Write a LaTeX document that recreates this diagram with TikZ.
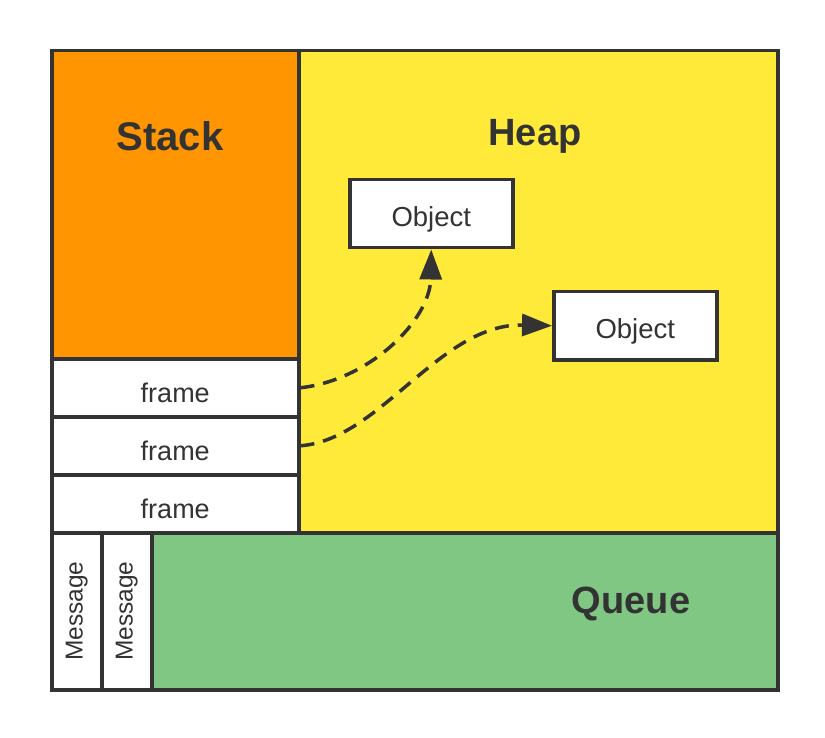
\documentclass[tikz,border=0pt]{standalone}
\usepackage{fontspec}
\usepackage{graphicx}
\setmainfont{Liberation Sans}
\usetikzlibrary{arrows.meta}
\definecolor{ink}{HTML}{333333}
\definecolor{stackc}{HTML}{FF9500}
\definecolor{heapc}{HTML}{FFEA3A}
\definecolor{queuec}{HTML}{81C784}
\begin{document}
\begin{tikzpicture}[x=1pt,y=-1pt,
  box/.style={draw=ink,line width=3.5pt,inner sep=0pt,anchor=north west,text=ink},
  big/.style={text=ink,inner sep=0pt},
  small/.style={font=\fontsize{27}{32}\selectfont,text height=29pt,text depth=0pt},
  objbox/.style={font=\fontsize{27.5}{32}\selectfont,text height=26pt,text depth=0pt},
  msg/.style={font=\fontsize{24.5}{29}\selectfont},
  ref/.style={draw=ink,line width=3.5pt,dash pattern=on 14pt off 9pt,
    -{Triangle[length=30pt,width=22pt]}}]
\useasboundingbox (0,0) rectangle (825,738);
\fill[white] (0,0) rectangle (825,738);
% regions
\node[box,fill=stackc,minimum width=247pt,minimum height=308pt] (stack) at (50,49) {};
\node[box,fill=heapc,minimum width=479pt,minimum height=482pt] (heap) at (297,49) {};
\node[box,fill=queuec,minimum width=626pt,minimum height=157pt] (queue) at (150,531) {};
% frames
\node[box,fill=white,small,minimum width=247pt,minimum height=58pt] (f1) at (50,357) {frame};
\node[box,fill=white,small,minimum width=247pt,minimum height=58pt] (f2) at (50,415) {frame};
\node[box,fill=white,small,minimum width=247pt,minimum height=58pt] (f3) at (50,473) {frame};
% messages
\node[box,fill=white,msg,minimum width=50pt,minimum height=157pt] (m1) at (50,531) {\rotatebox{90}{Message}};
\node[box,fill=white,msg,minimum width=50pt,minimum height=157pt] (m2) at (100,531) {\rotatebox{90}{Message}};
% objects
\node[box,fill=white,objbox,minimum width=163pt,minimum height=68pt] (o1) at (348,178) {Object};
\node[box,fill=white,objbox,minimum width=163pt,minimum height=68pt] (o2) at (552,290) {Object};
% outer frame
\node[draw=ink,line width=3.5pt,inner sep=0pt,anchor=north west,minimum width=726pt,minimum height=639pt] (outer) at (50,49) {};
% labels
\node[big,font=\fontsize{40}{46}\selectfont\bfseries] (lstack) at (170,136) {Stack};
\node[big,font=\fontsize{38}{44}\selectfont\bfseries] (lheap) at (535,136) {Heap};
\node[big,font=\fontsize{38}{44}\selectfont\bfseries] (lqueue) at (631,604) {Queue};
% references
\draw[ref] (f1.east) .. controls (370,380) and (430,320) .. (o1.south);
\draw[ref] (f2.east) .. controls (380,440) and (440,323) .. (o2.west);
\end{tikzpicture}
\end{document}
